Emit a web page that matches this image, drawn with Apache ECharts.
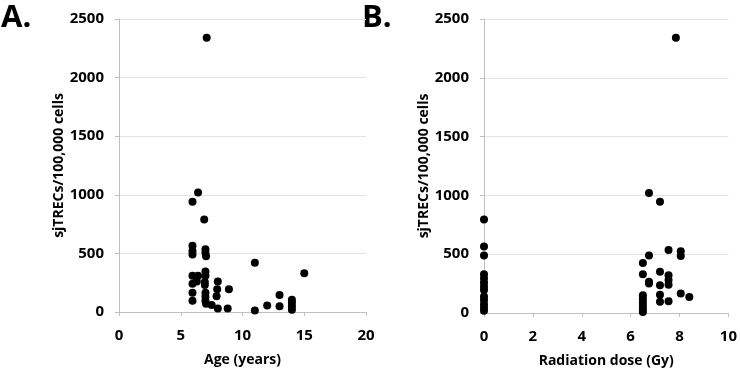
<!DOCTYPE html>
<html>
<head>
<meta charset="utf-8">
<script src="https://cdn.jsdelivr.net/npm/echarts@6/dist/echarts.min.js"></script>
<style>
  html, body { margin: 0; padding: 0; background: #fff; }
  #chart { width: 740px; height: 373px; }
</style>
</head>
<body>
<div id="chart"></div>
<script>
// panel A: age (years) vs sjTRECs
let ageData = [
    [7.1, 2340], [6.4, 1020], [5.95, 940], [6.9, 790],
    [5.95, 565], [5.95, 520], [5.95, 490],
    [7.0, 535], [7.0, 505], [7.05, 475],
    [11, 420], [15, 330],
    [5.95, 310], [5.95, 240], [5.95, 165], [5.95, 95],
    [6.4, 310], [6.3, 260],
    [7.0, 345], [7.0, 310], [6.95, 255], [6.95, 230], [7.0, 165], [7.0, 130], [7.0, 95], [7.05, 70],
    [7.5, 60],
    [8.0, 260], [7.95, 195], [7.9, 135], [8.0, 30],
    [8.9, 195], [8.8, 30],
    [11, 12], [12, 55],
    [13, 145], [13, 50],
    [14, 105], [14, 78], [14, 48], [14, 20]
];
// panel B: radiation dose (Gy) vs sjTRECs
let doseData = [
    [0, 795], [0, 565], [0, 490],
    [0, 330], [0, 295], [0, 260], [0, 225], [0, 195],
    [0, 140], [0, 110], [0, 75], [0, 45], [0, 20],
    [7.85, 2340], [6.75, 1020], [7.2, 945],
    [7.55, 535], [8.05, 525], [8.05, 485], [6.75, 490],
    [6.5, 425], [6.5, 330], [6.75, 265], [6.75, 250],
    [7.2, 350], [7.2, 235], [7.55, 320], [7.55, 280], [7.55, 240],
    [7.2, 155], [7.2, 95], [7.55, 100], [8.05, 165], [8.4, 135],
    [6.5, 150], [6.5, 120], [6.5, 90], [6.5, 60], [6.5, 30], [6.5, 8]
];
let yName = 'sjTRECs/100,000 cells';
let xNames = ['Age (years)', 'Radiation dose (Gy)'];

let font = '"Open Sans", Lato, sans-serif';
let labelStyle = { color: '#000', fontWeight: 'bold', fontSize: 15, fontFamily: font };
let nameStyle = { color: '#000', fontWeight: 'bold', fontSize: 14, fontFamily: font };
let lineColor = '#bfbfbf';

function makeY(idx, gap) {
    return {
        gridIndex: idx,
        type: 'value',
        min: 0, max: 2500, interval: 500,
        name: yName,
        nameLocation: 'middle',
        nameGap: gap,
        nameTextStyle: nameStyle,
        axisLine: { show: true, lineStyle: { color: lineColor } },
        axisTick: { show: true, length: 4, lineStyle: { color: lineColor } },
        axisLabel: Object.assign({ margin: 15, formatter: v => String(v) }, labelStyle),
        splitLine: { show: true, lineStyle: { color: '#e3e3e3' } }
    };
}
function makeX(idx, max, interval, name) {
    return {
        gridIndex: idx,
        type: 'value',
        min: 0, max: max, interval: interval,
        name: name,
        nameLocation: 'middle',
        nameGap: 41,
        nameTextStyle: nameStyle,
        axisLine: { show: true, onZero: false, lineStyle: { color: lineColor } },
        axisTick: { show: true, length: 4, lineStyle: { color: lineColor } },
        axisLabel: Object.assign({ margin: 16, formatter: v => String(v) }, labelStyle),
        splitLine: { show: false }
    };
}

let option = {
    backgroundColor: '#fff',
    animation: false,
    grid: [
        { left: 119, right: 374, top: 19, bottom: 61 },
        { left: 484, right: 11, top: 19, bottom: 59 }
    ],
    xAxis: [makeX(0, 20, 5, xNames[0]), makeX(1, 10, 2, xNames[1])],
    yAxis: [makeY(0, 52), makeY(1, 51)],
    graphic: [
        { type: 'text', left: 1, top: 3, style: { text: 'A.', fill: '#000', font: 'bold 31px ' + font } },
        { type: 'text', left: 362, top: 3, style: { text: 'B.', fill: '#000', font: 'bold 31px ' + font } }
    ],
    series: [
        {
            type: 'scatter', xAxisIndex: 0, yAxisIndex: 0,
            symbolSize: 8, itemStyle: { color: '#000', opacity: 1 },
            data: ageData
        },
        {
            type: 'scatter', xAxisIndex: 1, yAxisIndex: 1,
            symbolSize: 8, itemStyle: { color: '#000', opacity: 1 },
            data: doseData
        }
    ]
};

let chart = echarts.init(document.getElementById('chart'));
chart.setOption(option);
</script>
</body>
</html>
